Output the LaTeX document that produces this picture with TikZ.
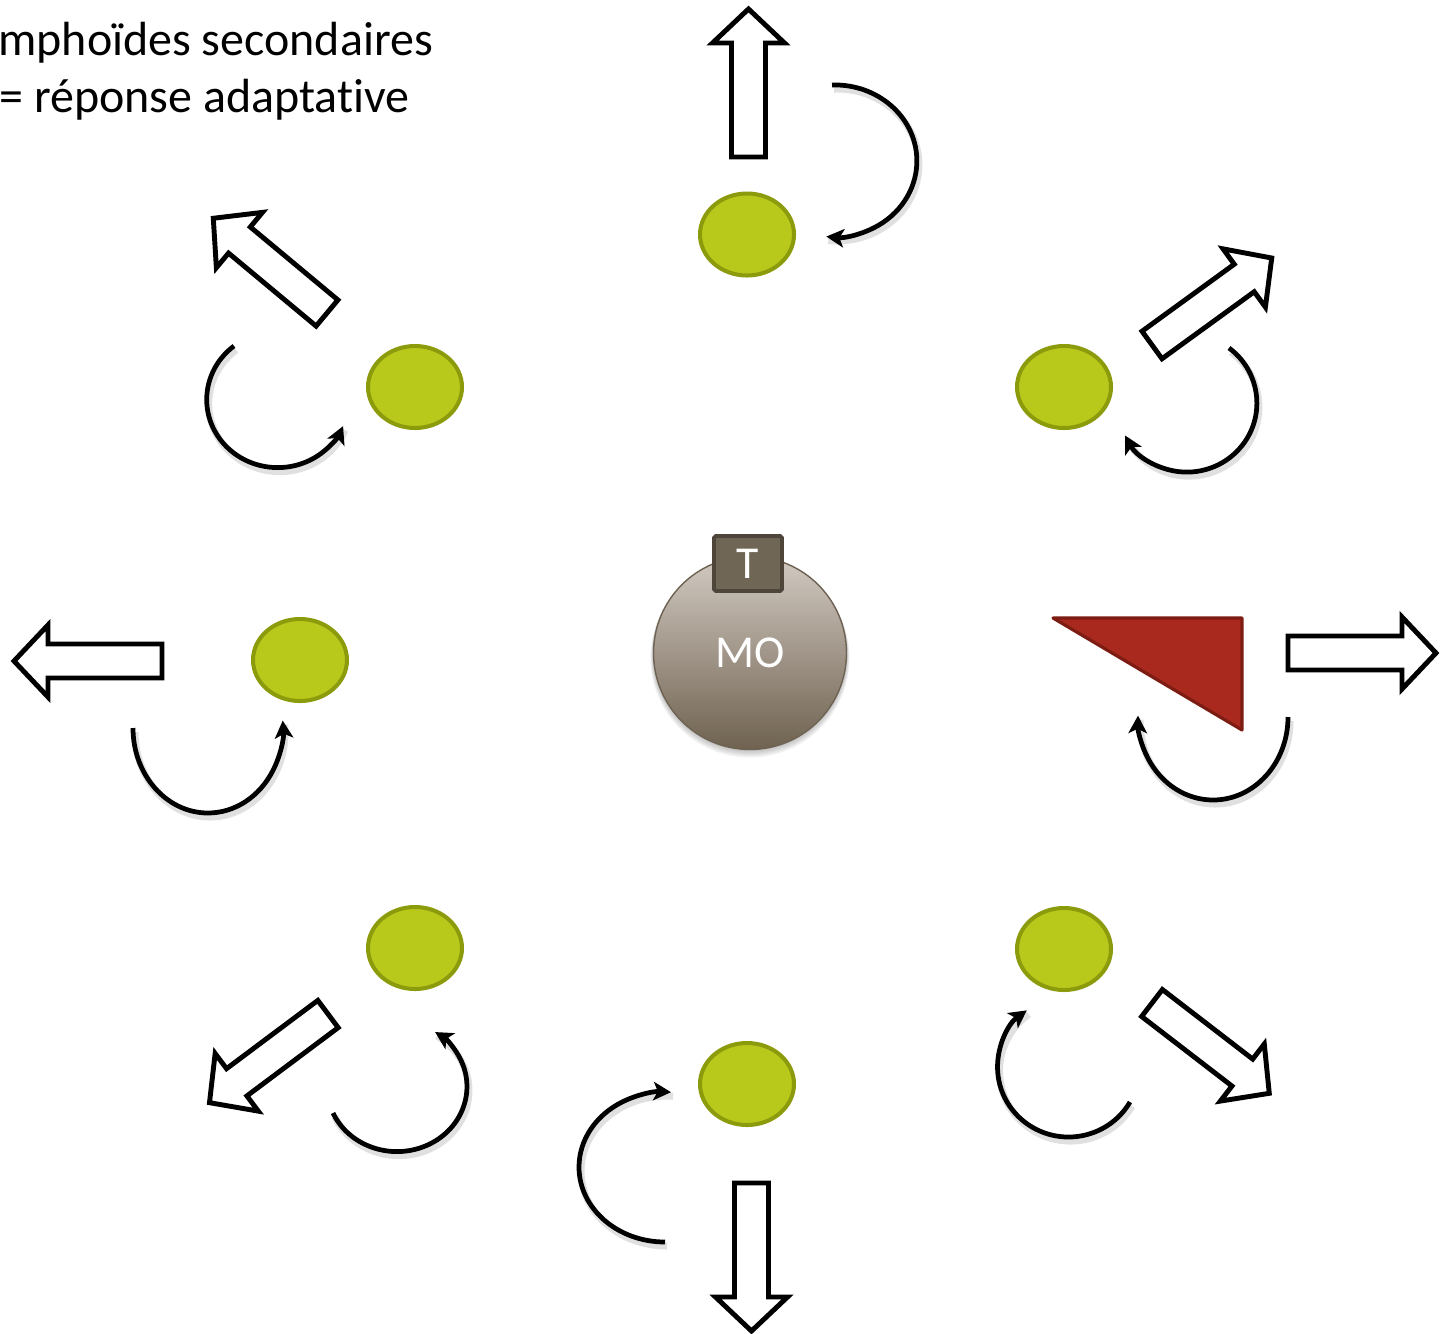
\documentclass[tikz,border=0pt]{standalone}
\usepackage{fontspec}
\setmainfont{Carlito}[Ligatures=NoCommon]
\usetikzlibrary{arrows.meta,shapes.geometric}

\definecolor{cellfill}{HTML}{B9C91C}
\definecolor{cellline}{HTML}{8C9B0C}
\definecolor{motop}{HTML}{D2CAC2}
\definecolor{mobottom}{HTML}{6F6250}
\definecolor{moline}{HTML}{6E6252}
\definecolor{tfill}{HTML}{706656}
\definecolor{tline}{HTML}{4E463B}
\definecolor{agfill}{HTML}{A9291E}
\definecolor{agline}{HTML}{7D1C13}

\tikzset{
  cell/.style={ellipse, draw=cellline, fill=cellfill, line width=2.3pt,
    minimum width=1.88cm, minimum height=1.64cm, inner sep=0pt},
  loopline/.style={line width=2.7pt, -{Stealth[length=10pt,width=10.5pt,inset=2.5pt]}},
  loopshade/.style={line width=4pt, black, opacity=0.12},
  blockarrow/.pic={
    \draw[line width=2.8pt, fill=white, miter limit=10]
      (0,-17) -- (114,-17) -- (114,-36) -- (148,0) -- (114,36) -- (114,17) -- (0,17) -- cycle;
  },
  bigtext/.style={font=\fontsize{27.3}{33}\selectfont, inner sep=0pt, anchor=base west},
}

% circular feedback arrow: start coordinate name, start angle, end angle, x radius, y radius
\newcommand\feedback[5]{%
  \draw[loopshade] ([shift={(2,4)}]#1) arc[start angle=#2, end angle=#3, x radius=#4, y radius=#5];
  \draw[loopline] (#1) arc[start angle=#2, end angle=#3, x radius=#4, y radius=#5];
}

\begin{document}
\begin{tikzpicture}[x=0.02cm, y=-0.02cm]
  \useasboundingbox (0,0) rectangle (1443,1333);
  \clip (0,0) rectangle (1443,1333);

  % heading
  \node[bigtext] (title1) at (-2,55) {mphoïdes secondaires};
  \node[bigtext] (title2) at (-1,112) {= réponse adaptative};

  % central cell with its receptor
  \foreach \k in {1,...,5}
    \fill[black, opacity=0.05] (750,{653+\k}) circle[radius={96.5+0.6*\k}];
  \node[circle, draw=moline, line width=0.8pt, top color=motop, bottom color=mobottom,
        minimum size=3.86cm, inner sep=0pt, text=white,
        font=\fontsize{26}{30}\selectfont] (mo) at (750,653) {MO};
  \node[draw=tline, fill=tfill, line width=2.2pt, rounded corners=1pt,
        minimum width=1.36cm, minimum height=1.10cm, inner sep=0pt, text=white,
        font=\fontsize{26}{30}\selectfont] (t) at (748,563.5) {T};

  % surrounding cells
  \node[cell] (c1) at (747,234.5) {};
  \node[cell] (c2) at (415,387) {};
  \node[cell] (c3) at (1064,387) {};
  \node[cell] (c4) at (300,660) {};
  \node[cell] (c6) at (415,948) {};
  \node[cell] (c7) at (1064,949) {};
  \node[cell] (c8) at (747,1084) {};

  % antigen
  \draw[agline, fill=agfill, line width=1.8pt, line join=round]
    (1053,618) -- (1242,618) -- (1242,730) -- cycle;

  % outgoing block arrows
  \pic[rotate=90]     (a1) at (748.5,157) {blockarrow};
  \pic[rotate=140.2]  (a2) at (327,313)   {blockarrow};
  \pic[rotate=36]     (a3) at (1152,345)  {blockarrow};
  \pic[rotate=180]    (a4) at (162,661)   {blockarrow};
  \pic[rotate=0]      (a5) at (1288,653)  {blockarrow};
  \pic[rotate=-143.2] (a6) at (328,1014)  {blockarrow};
  \pic[rotate=-37.6]  (a7) at (1152,1003) {blockarrow};
  \pic[rotate=-90]    (a8) at (751.5,1183) {blockarrow};

  % feedback loops
  \coordinate (l1) at (832,85);
  \coordinate (l2) at (234,346);
  \coordinate (l3) at (1229,348);
  \coordinate (l4) at (133,728);
  \coordinate (l5) at (1288,717);
  \coordinate (l6) at (333,1113);
  \coordinate (l7) at (1130,1102);
  \coordinate (l8) at (665,1242);
  \feedback{l1}{-92}{96}{82}{76}
  \feedback{l2}{232}{23}{71}{68}
  \feedback{l3}{-53}{152}{70}{69}
  \feedback{l4}{180}{-5}{75}{85}
  \feedback{l5}{0}{181}{75}{83}
  \feedback{l6}{156}{-57}{70}{65}
  \feedback{l7}{30}{234}{71}{70}
  \feedback{l8}{90}{274}{86}{75}
\end{tikzpicture}
\end{document}
